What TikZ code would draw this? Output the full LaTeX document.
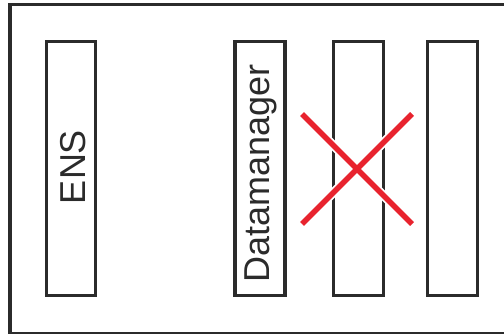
\documentclass[tikz,border=0pt]{standalone}
\usepackage{fontspec}
\setmainfont{Liberation Sans}
\definecolor{frameline}{RGB}{43,43,43}
\definecolor{crossred}{RGB}{232,35,46}
\tikzset{
  unitbox/.style={draw=frameline, line width=3.5pt, minimum width=50pt, minimum height=254pt, inner sep=0pt, outer sep=0pt},
  boxlabel/.style={rotate=90, anchor=base, inner sep=0pt, font=\fontsize{36pt}{40pt}\selectfont, text=frameline},
  crosshalo/.style={white, line width=9pt},
  crossline/.style={crossred, line width=5.5pt}
}
\begin{document}
\begin{tikzpicture}[x=1pt,y=-1pt]
  \useasboundingbox (0,0) rectangle (504,334);
  \clip (0,0) rectangle (504,334);
  \draw[draw=frameline, line width=3.5pt] (10,4.5) rectangle (520,333.5);
  \node[unitbox, minimum width=49pt] (ens) at (71,168.5) {};
  \node[unitbox] (dm) at (260,168.5) {};
  \node[unitbox] (u3) at (358.25,168.5) {};
  \node[unitbox] (u4) at (452.25,168.5) {};
  \node[boxlabel] (enslabel) at (85,167) {ENS};
  \node[boxlabel] (dmlabel) at (269,173.5) {Datamanager};
  \coordinate (xa) at (302,114);
  \coordinate (xb) at (412,224);
  \coordinate (xc) at (412,114);
  \coordinate (xd) at (302,224);
  \draw[crosshalo] (xa) -- (xb);
  \draw[crosshalo] (xc) -- (xd);
  \draw[crossline] (xa) -- (xb);
  \draw[crossline] (xc) -- (xd);
\end{tikzpicture}
\end{document}
